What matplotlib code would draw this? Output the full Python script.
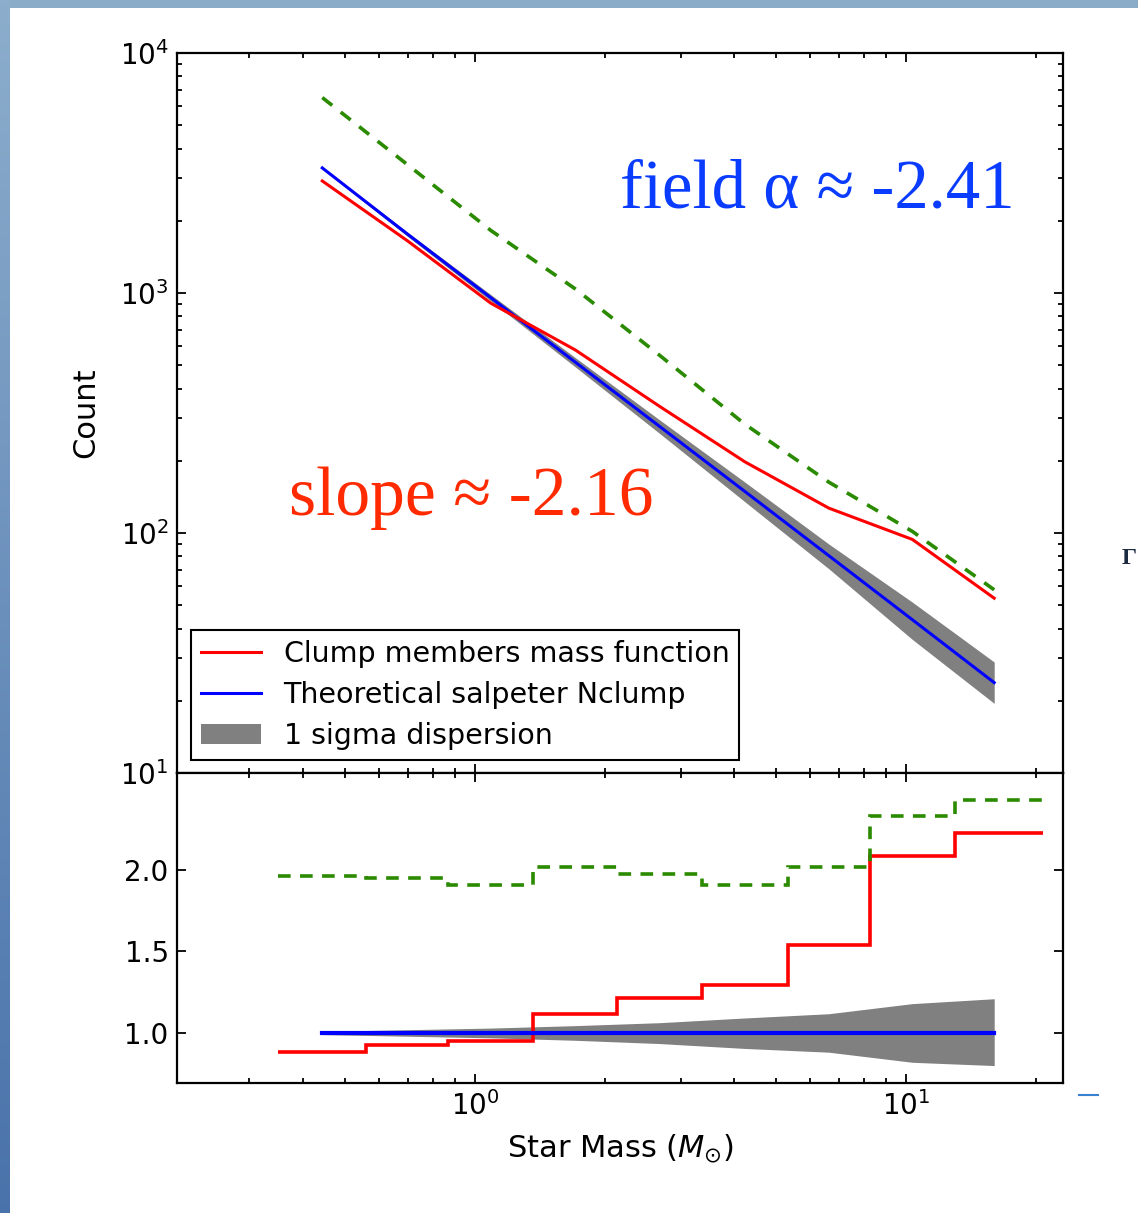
#!/usr/bin/python3

import numpy as np
import matplotlib
matplotlib.use("Agg")
import matplotlib.pyplot as plt
from matplotlib.lines import Line2D
from matplotlib.patches import Rectangle

#bin edges and centers (Msun)
edges = [0.350, 0.560, 0.869, 1.368, 2.138, 3.365, 5.309, 8.241, 12.97, 20.8]
centers = [0.443, 0.698, 1.090, 1.710, 2.682, 4.227, 6.615, 10.34, 16.0]

#top panel, counts per bin
clump = [2930, 1650, 906, 579, 337, 198, 127, 94, 53.5]
salpeter = [3320, 1760, 955, 515, 278, 149, 80.5, 43.5, 23.8]
sig_hi = [3352, 1793, 984, 538, 296, 163, 90, 51.5, 29]
sig_lo = [3286, 1723, 926, 492, 260, 135, 71, 36, 19.5]
field = [6520, 3426, 1821, 1040, 550, 284, 163, 101.5, 58]

#bottom panel, ratio to theoretical
clump_r = [0.882, 0.927, 0.950, 1.118, 1.214, 1.292, 1.538, 2.088, 2.226]
field_r = [1.965, 1.949, 1.907, 2.020, 1.977, 1.907, 2.020, 2.334, 2.430]
salp_r = [1.0, 1.0, 1.0, 1.0, 1.0, 1.0, 1.0, 1.0, 1.0]
sig_hi_r = [1.01, 1.02, 1.03, 1.045, 1.063, 1.092, 1.118, 1.18, 1.21]
sig_lo_r = [0.99, 0.98, 0.97, 0.955, 0.935, 0.905, 0.882, 0.82, 0.80]

W, H = 1138., 1213.

#_____________________________________________________________________________
def main():

    fig = plt.figure(figsize=(W/100, H/100), dpi=100)
    fig.patch.set_facecolor("white")

    slide_frame(fig)

    ax1 = fig.add_axes([177/W, 1-773/H, 886/W, 720/H])
    ax2 = fig.add_axes([177/W, 1-1083/H, 886/W, 310/H], sharex=ax1)

    #top: mass function
    ax1.fill_between(centers, sig_lo, sig_hi, color="#808080", lw=0, label="1 sigma dispersion")
    ax1.plot(centers, salpeter, "-", color="blue", lw=2.2, label="Theoretical salpeter Nclump")
    ax1.plot(centers, clump, "-", color="red", lw=2.2, label="Clump members mass function")
    ax1.plot(centers, field, color="#2a8a00", lw=2.6, ls=(0, (3.5, 3.0)))

    ax1.set_xscale("log")
    ax1.set_yscale("log")
    ax1.set_xlim(0.204, 23.1)
    ax1.set_ylim(10, 1e4)
    ax1.set_ylabel("Count", fontsize=22)
    ax1.yaxis.set_label_coords(-0.087, 0.5)
    plt.setp(ax1.get_xticklabels(), visible=False)

    h, l = ax1.get_legend_handles_labels()
    order = [2, 1, 0]
    leg = ax1.legend([h[i] for i in order], [l[i] for i in order], loc="lower left",
                     bbox_to_anchor=(0.0158, 0.018), borderaxespad=0, fontsize=20.5,
                     fancybox=False, framealpha=1, edgecolor="black", handlelength=2.1,
                     handletextpad=0.8, labelspacing=0.45, borderpad=0.35)
    leg.get_frame().set_linewidth(1.5)

    #bottom: ratio
    ax2.fill_between(centers, sig_lo_r, sig_hi_r, color="#808080", lw=0)
    ax2.plot(centers, salp_r, "-", color="blue", lw=3)
    ax2.stairs(clump_r, edges, baseline=None, color="red", lw=2.6)
    ax2.stairs(field_r, edges, baseline=None, color="#2a8a00", lw=2.6, ls=(0, (3.5, 2.6)))

    ax2.set_ylim(0.693, 2.595)
    ax2.set_yticks([1.0, 1.5, 2.0])
    ax2.set_xlabel("Star Mass ($M_{\\odot}$)", fontsize=22)
    ax2.xaxis.set_label_coords(0.5, -0.16)

    for ax in [ax1, ax2]:
        set_axes(ax)

    #slide annotations
    fig.text(620/W, 1-208/H, "field \u03b1 \u2248 -2.41", color="#0a3cff", fontsize=49.5,
             family="Liberation Serif", ha="left", va="baseline")
    fig.text(289/W, 1-515/H, "slope \u2248 -2.16", color="#ff2a00", fontsize=50,
             family="Liberation Serif", ha="left", va="baseline")
    fig.text(1122/W, 1-564/H, "\u0393", color="#1a2a40", fontsize=17,
             family="Liberation Serif", weight="bold", ha="left", va="baseline")
    fig.add_artist(Line2D([1079/W, 1098/W], [1-1095/H, 1-1095/H], color="#3a80d0", lw=1.5))

    fig.savefig("out.png", dpi=100)
    plt.close()

#main

#_____________________________________________________________________________
def set_axes(ax):

    for s in ax.spines.values():
        s.set_linewidth(1.6)
    ax.tick_params(which="both", direction="in", top=True, right=True, labelsize=20, width=1.3)
    ax.tick_params(which="major", length=6.5, pad=6)
    ax.tick_params(which="minor", length=3.5)

#set_axes

#_____________________________________________________________________________
def slide_frame(fig):

    #left gradient strip and top band of the slide
    bx = fig.add_axes([0, 0, 10/W, 1])
    grad = np.linspace(0, 1, 256).reshape(-1, 1, 1)
    top = np.array([0.55, 0.68, 0.80])
    bot = np.array([0.29, 0.45, 0.67])
    img = top*(1-grad) + bot*grad
    bx.imshow(img, aspect="auto", extent=[0, 1, 0, 1])
    bx.set_axis_off()

    fig.patches.append(Rectangle((0, 1-8/H), 1, 8/H, transform=fig.transFigure,
                                 color="#8aacc9", lw=0, zorder=-1))

#slide_frame

#_____________________________________________________________________________
if __name__ == "__main__":

    main()
